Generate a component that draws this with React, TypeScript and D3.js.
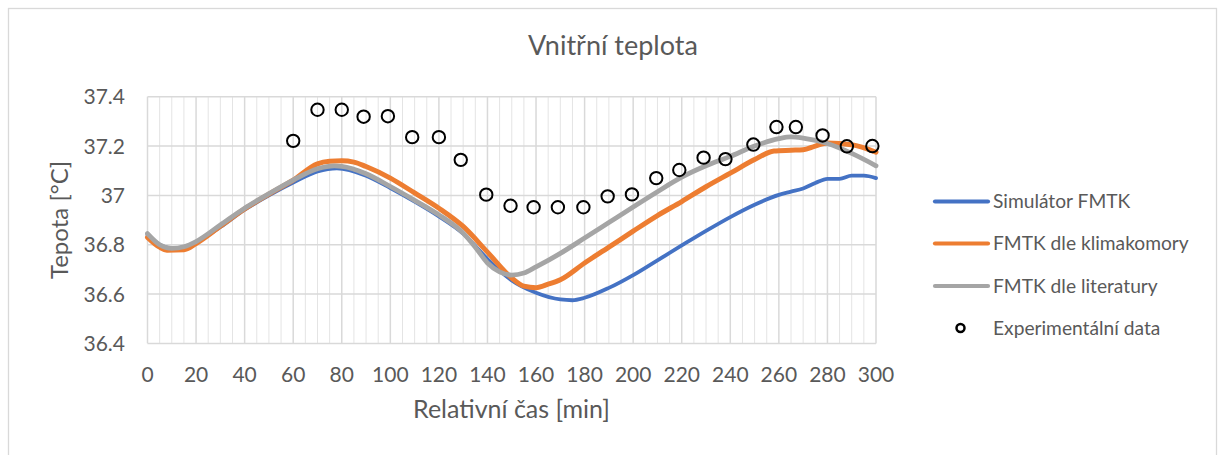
import React from "react";
import * as d3 from "d3";

const title = "Vnitřní teplota";
const xTitle = "Relativní čas [min]";
const yTitle = "Tepota [°C]";

const xTicks = [0, 20, 40, 60, 80, 100, 120, 140, 160, 180, 200, 220, 240, 260, 280, 300];
const yTicks = [36.4, 36.6, 36.8, 37.0, 37.2, 37.4];
const yTickLabels = ["36.4", "36.6", "36.8", "37", "37.2", "37.4"];

const seriesNames = ["Simulátor FMTK", "FMTK dle klimakomory", "FMTK dle literatury", "Experimentální data"];
const seriesColors = ["#4472C4", "#ED7D31", "#A5A5A5", "#000000"];

const simTime = [0, 5, 10, 15, 20, 30, 40, 50, 60, 70, 78, 90, 100, 110, 120, 130, 140, 145, 150, 160, 170, 175, 180, 190, 200, 210, 220, 230, 240, 250, 260, 265, 270, 275, 280, 285, 290, 295, 300];
const simValues = [36.84, 36.8, 36.785, 36.79, 36.81, 36.872, 36.942, 37.0, 37.052, 37.097, 37.11, 37.08, 37.03, 36.975, 36.915, 36.845, 36.742, 36.695, 36.655, 36.605, 36.578, 36.575, 36.585, 36.625, 36.677, 36.737, 36.797, 36.856, 36.912, 36.962, 37.002, 37.015, 37.028, 37.05, 37.067, 37.067, 37.08, 37.08, 37.07];

const klimaTime = [0, 5, 8, 15, 20, 30, 40, 50, 60, 70, 75, 80, 85, 90, 100, 110, 120, 130, 140, 150, 155, 160, 165, 170, 180, 190, 200, 210, 220, 230, 240, 250, 258, 265, 270, 275, 280, 290, 300];
const klimaValues = [36.83, 36.79, 36.778, 36.78, 36.805, 36.875, 36.945, 37.005, 37.062, 37.128, 37.138, 37.14, 37.135, 37.117, 37.07, 37.01, 36.948, 36.874, 36.77, 36.665, 36.632, 36.626, 36.64, 36.658, 36.726, 36.79, 36.855, 36.918, 36.975, 37.035, 37.09, 37.145, 37.18, 37.183, 37.185, 37.2, 37.212, 37.205, 37.175];

const litTime = [0, 5, 10, 15, 20, 30, 40, 50, 60, 70, 77, 80, 90, 100, 110, 120, 130, 135, 140, 145, 150, 155, 160, 170, 180, 190, 200, 210, 220, 230, 240, 250, 260, 265, 270, 280, 290, 300];
const litValues = [36.845, 36.8, 36.785, 36.792, 36.813, 36.88, 36.948, 37.007, 37.062, 37.108, 37.12, 37.118, 37.088, 37.036, 36.98, 36.921, 36.847, 36.79, 36.726, 36.69, 36.677, 36.685, 36.71, 36.765, 36.827, 36.89, 36.953, 37.015, 37.074, 37.12, 37.158, 37.2, 37.23, 37.237, 37.232, 37.21, 37.17, 37.12];

const expTime = [60, 70, 80, 89, 99, 109, 120, 129, 139.5, 149.5, 159, 169, 179.5, 189.5, 199.5, 209.5, 219, 229, 238, 249.5, 259, 267, 278, 288, 298.5];
const expValues = [37.221, 37.347, 37.347, 37.319, 37.321, 37.236, 37.236, 37.144, 37.003, 36.958, 36.952, 36.952, 36.952, 36.996, 37.004, 37.07, 37.103, 37.153, 37.147, 37.206, 37.277, 37.277, 37.243, 37.199, 37.2];

const W = 1223;
const H = 455;
const FONT = "Lato, 'Open Sans', sans-serif";
const TEXT = "#595959";

export default function App() {
  const x = d3.scaleLinear().domain([0, 300]).range([147.5, 876]);
  const y = d3.scaleLinear().domain([36.4, 37.4]).range([343.4, 96.7]);

  const mk = (ts: number[], vs: number[]) =>
    d3
      .line<number>()
      .x((_, i) => x(ts[i]))
      .y((v) => y(v))
      .curve(d3.curveMonotoneX)(vs) || "";

  const minorX = d3.range(0, 301, 5).filter((v) => v % 20 !== 0);
  const majorX = xTicks;

  const series = [
    { t: simTime, v: simValues, w: 3.8 },
    { t: klimaTime, v: klimaValues, w: 5 },
    { t: litTime, v: litValues, w: 4.8 },
  ];

  const legendY = [201.5, 243.5, 286, 328];

  return (
    <svg
      width={W}
      height={H}
      style={{ position: "absolute", left: 0, top: 0, background: "#fff" }}
      fontFamily={FONT}
    >
      <rect x={0} y={0} width={W} height={H} fill="#fff" />
      <rect x={8.5} y={8.5} width={1208} height={470} fill="#fff" stroke="#D9D9D9" strokeWidth={1.3} />

      <text x={613} y={55} textAnchor="middle" fontSize={27} fill={TEXT}>
        {title}
      </text>

      {/* gridlines */}
      {minorX.map((v) => (
        <line key={"mx" + v} x1={x(v)} x2={x(v)} y1={y(36.4)} y2={y(37.4)} stroke="#E4E4E4" strokeWidth={1} />
      ))}
      {majorX.map((v) => (
        <line key={"Mx" + v} x1={x(v)} x2={x(v)} y1={y(36.4)} y2={y(37.4)} stroke="#D9D9D9" strokeWidth={1.5} />
      ))}
      {yTicks.map((v) => (
        <line key={"gy" + v} x1={x(0)} x2={x(300)} y1={y(v)} y2={y(v)} stroke="#D9D9D9" strokeWidth={1.5} />
      ))}

      {/* tick labels */}
      {yTicks.map((v, i) => (
        <text key={"yl" + v} x={125} y={y(v)} dy="0.36em" textAnchor="end" fontSize={21} fill={TEXT}>
          {yTickLabels[i]}
        </text>
      ))}
      {xTicks.map((v) => (
        <text key={"xl" + v} x={x(v)} y={381.5} textAnchor="middle" fontSize={21} fill={TEXT}>
          {v}
        </text>
      ))}

      <text x={511.5} y={418} textAnchor="middle" fontSize={25} fill={TEXT}>
        {xTitle}
      </text>
      <text
        transform={`translate(68, 220) rotate(-90)`}
        textAnchor="middle"
        fontSize={24}
        fill={TEXT}
      >
        {yTitle}
      </text>

      {/* series */}
      {series.map((s, i) => (
        <path
          key={"s" + i}
          d={mk(s.t, s.v)}
          fill="none"
          stroke={seriesColors[i]}
          strokeWidth={s.w}
          strokeLinejoin="round"
          strokeLinecap="round"
        />
      ))}
      {expTime.map((t, i) => (
        <circle key={"e" + i} cx={x(t)} cy={y(expValues[i])} r={6.2} fill="none" stroke="#000" strokeWidth={2} />
      ))}

      {/* legend */}
      {seriesNames.map((name, i) => (
        <g key={"lg" + i}>
          {i < 3 ? (
            <line x1={935} x2={988} y1={legendY[i]} y2={legendY[i]} stroke={seriesColors[i]} strokeWidth={4.2} strokeLinecap="round" />
          ) : (
            <circle cx={960.5} cy={legendY[i]} r={4} fill="none" stroke="#000" strokeWidth={2.5} />
          )}
          <text x={993} y={legendY[i]} dy="0.36em" fontSize={19.2} fill={TEXT}>
            {name}
          </text>
        </g>
      ))}
    </svg>
  );
}
